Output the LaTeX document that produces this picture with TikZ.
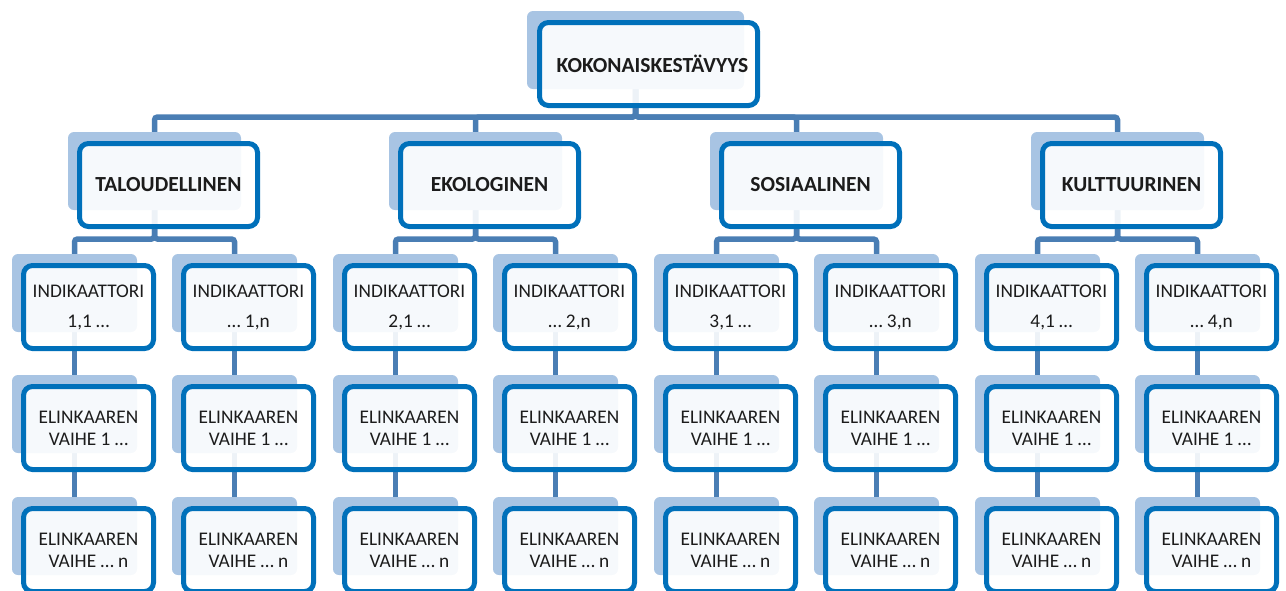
\documentclass[tikz,border=0pt]{standalone}
\usepackage{fontspec}
\setmainfont{Carlito}
\usetikzlibrary{calc}
\pgfdeclarelayer{background}
\pgfsetlayers{background,main}

\definecolor{backblue}{HTML}{A8C4E3}
\definecolor{frameblue}{HTML}{0070BA}
\definecolor{linkblue}{HTML}{4A7EB4}
\definecolor{inkgray}{HTML}{1C1C1C}

\tikzset{
  backbox/.style={draw=none, fill=backblue, rounded corners=6pt,
    minimum height=78pt, anchor=north west, inner sep=0pt, outer sep=0pt},
  framebox/.style={draw=frameblue, line width=5pt, fill=white, fill opacity=0.9,
    text opacity=1, rounded corners=9pt, minimum height=83pt,
    anchor=north west, inner sep=0pt, outer sep=0pt, align=center, text=inkgray,
    font=\fontsize{19.3}{22}\selectfont},
  headfont/.style={font=\fontsize{21.5}{24}\bfseries\selectfont},
  link/.style={draw=linkblue, line width=5.5pt, rounded corners=3pt}
}

\begin{document}
\begin{tikzpicture}[x=1pt,y=-1pt]
\useasboundingbox (0,0) rectangle (1286,590);
\coordinate (busA) at (0,117);
\coordinate (busB) at (0,239);

% root
\node[backbox, minimum width=217pt] (btop) at (527,11) {};
\node[framebox, headfont, minimum width=218pt] (ftop) at (539.5,22.5) {\hspace{8pt}KOKONAISKESTÄVYYS};

% four pillars, each with two indicator columns
\foreach \k/\name in {0/TALOUDELLINEN,1/EKOLOGINEN,2/SOSIAALINEN,3/KULTTUURINEN} {
  \pgfmathsetmacro\gx{321*\k}
  \pgfmathtruncatemacro\num{\k+1}
  \node[backbox, minimum width=173pt] (bc\k) at (68+\gx,132) {};
  \node[framebox, headfont, minimum width=178pt] (fc\k) at (79.5+\gx,143.5) {\name};
  \foreach \j/\dx/\ind in {0/12/{\num,1 …},1/172/{… \num,n}} {
    \node[backbox, minimum width=125pt] (bi\k\j) at (\dx+\gx,254) {};
    \node[framebox, minimum width=130pt] (fi\k\j) at (\dx+\gx+11.5,265.5)
      {INDIKAATTORI\\[8pt]\ind};
    \node[backbox, minimum width=125pt] (be\k\j) at (\dx+\gx,375) {};
    \node[framebox, minimum width=130pt] (fe\k\j) at (\dx+\gx+11.5,386.5)
      {ELINKAAREN\\VAIHE 1 …};
    \node[backbox, minimum width=125pt] (bn\k\j) at (\dx+\gx,497) {};
    \node[framebox, minimum width=130pt] (fn\k\j) at (\dx+\gx+11.5,508.5)
      {ELINKAAREN\\VAIHE … n};
  }
}

% connectors, kept underneath the boxes
\begin{pgfonlayer}{background}
  \foreach \k in {0,...,3} {
    \draw[link] (btop.south) -- (btop.south |- busA) -| (bc\k.north);
    \foreach \j in {0,1} {
      \draw[link] (bc\k.south) -- (bc\k.south |- busB) -| (bi\k\j.north);
      \draw[link] (bi\k\j.south) -- (be\k\j.north);
      \draw[link] (be\k\j.south) -- (bn\k\j.north);
    }
  }
\end{pgfonlayer}
\end{tikzpicture}
\end{document}
